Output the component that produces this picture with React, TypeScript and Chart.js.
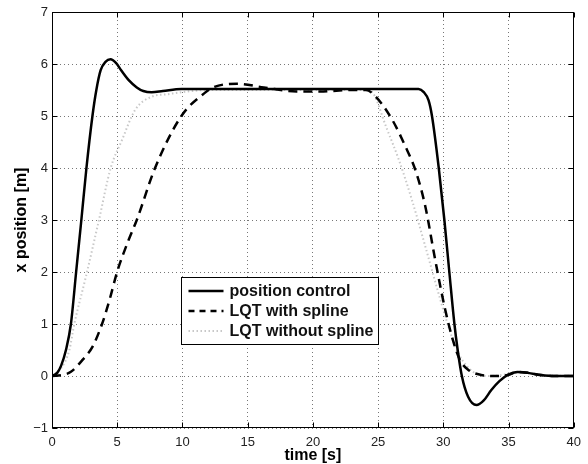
import React, { useEffect, useRef } from "react";
import { Chart, registerables } from "chart.js";

Chart.register(...registerables);

// ---- data (time [s], x position [m]) ----
const posT = [0, 0.4, 0.7, 1.07, 1.45, 1.85, 2.25, 2.64, 3.1, 3.4, 3.73, 4.1, 4.49, 4.9, 5.3, 5.88, 6.5, 7.0, 7.64, 8.5, 9.92, 14, 20, 28.1, 28.5, 28.87, 29.13, 29.65, 30.08, 30.46, 30.85, 31.1, 31.42, 31.9, 32.54, 33.1, 33.68, 34.3, 34.94, 35.7, 36.5, 37.47, 38.5, 40];
const posX = [0, 0.06, 0.2, 0.5, 1.0, 2.0, 3.0, 4.0, 5.0, 5.5, 5.88, 6.04, 6.09, 6.02, 5.88, 5.69, 5.55, 5.48, 5.455, 5.48, 5.52, 5.52, 5.52, 5.52, 5.46, 5.3, 5.0, 4.0, 3.0, 2.0, 1.0, 0.5, 0.0, -0.4, -0.56, -0.47, -0.27, -0.1, 0.02, 0.077, 0.06, 0.02, 0.0, 0.0];

const splT = [0, 0.8, 1.45, 2.34, 3.1, 3.85, 4.45, 4.99, 5.88, 6.5, 7.9, 9.92, 11.69, 12.45, 14.2, 16.24, 18.76, 20.53, 23.06, 24.07, 24.83, 26.1, 27.1, 27.86, 28.62, 29.38, 30.14, 30.77, 31.27, 31.9, 32.9, 34.0, 34.94, 35.7, 36.5, 37.47, 38.5, 40];
const splX = [0, 0.02, 0.08, 0.31, 0.56, 1.01, 1.5, 2.0, 2.62, 3.0, 4.0, 5.0, 5.44, 5.56, 5.62, 5.55, 5.47, 5.47, 5.5, 5.5, 5.37, 4.92, 4.41, 3.96, 3.26, 2.23, 1.28, 0.66, 0.31, 0.12, 0.02, 0.0, 0.02, 0.077, 0.06, 0.02, 0.0, 0.0];

const noSplT = [0, 0.7, 1.33, 1.71, 2.59, 3.6, 4.5, 5.37, 6.38, 7.64, 8.9, 10, 12, 24, 24.6, 25.6, 26.6, 27.6, 28.62, 29.63, 30.39, 31.15, 32.4, 33.5, 34.5, 35.7, 37.5, 40];
const noSplX = [0, 0.15, 0.5, 1.0, 1.9, 3.0, 4.0, 4.54, 5.12, 5.37, 5.42, 5.46, 5.5, 5.5, 5.44, 4.8, 4.15, 3.38, 2.49, 1.59, 0.95, 0.44, 0.06, 0.0, 0.02, 0.077, 0.02, 0.0];

const seriesNames = ["position control", "LQT with spline", "LQT without spline"];
const xTitle = "time [s]";
const yTitle = "x position [m]";
const xRange = [0, 40];
const yRange = [-1, 7];
const xStep = 5;
const yStep = 1;
// legend box corners in data units
const legendT = [9.9, 25.0];
const legendY = [1.9, 0.62];

const FONT = "'Liberation Sans', Arial, Helvetica, sans-serif";

const zip = (t: number[], v: number[]) => t.map((x, i) => ({ x, y: v[i] }));

const styles = [
  { color: "#000", width: 2.5, dash: [] as number[] },
  { color: "#000", width: 2.5, dash: [9, 6] },
  { color: "#c8c8c8", width: 2, dash: [1.5, 2.5] },
];

const framePlugin = {
  id: "frame",
  afterDraw(chart: any) {
    const { ctx, chartArea: a, scales } = chart;
    const L = Math.round(a.left) + 0.5;
    const R = Math.round(a.right) - 0.5;
    const T = Math.round(a.top) + 0.5;
    const B = Math.round(a.bottom) - 0.5;
    ctx.save();
    ctx.setLineDash([]);
    ctx.strokeStyle = "#000";
    ctx.lineWidth = 1;
    ctx.beginPath();
    const tl = 5;
    scales.x.ticks.forEach((t: any) => {
      const p = Math.round(scales.x.getPixelForValue(t.value)) + 0.5;
      ctx.moveTo(p, B);
      ctx.lineTo(p, B - tl);
      ctx.moveTo(p, T);
      ctx.lineTo(p, T + tl);
    });
    scales.y.ticks.forEach((t: any) => {
      const p = Math.round(scales.y.getPixelForValue(t.value)) + 0.5;
      ctx.moveTo(L, p);
      ctx.lineTo(L + tl, p);
      ctx.moveTo(R, p);
      ctx.lineTo(R - tl, p);
    });
    ctx.stroke();
    ctx.strokeRect(L, T, R - L, B - T);
    ctx.restore();
  },
};

const legendPlugin = {
  id: "boxLegend",
  afterDatasetsDraw(chart: any) {
    const { ctx, scales } = chart;
    const x0 = Math.round(scales.x.getPixelForValue(legendT[0])) + 0.5;
    const x1 = Math.round(scales.x.getPixelForValue(legendT[1])) + 0.5;
    const y0 = Math.round(scales.y.getPixelForValue(legendY[0])) + 0.5;
    const y1 = Math.round(scales.y.getPixelForValue(legendY[1])) + 0.5;
    ctx.save();
    ctx.fillStyle = "#fff";
    ctx.fillRect(x0, y0, x1 - x0, y1 - y0);
    ctx.setLineDash([]);
    ctx.strokeStyle = "#000";
    ctx.lineWidth = 1;
    ctx.strokeRect(x0, y0, x1 - x0, y1 - y0);
    const pad = 3.5;
    const rowH = (y1 - y0 - 2 * pad) / seriesNames.length;
    ctx.font = `bold 16px ${FONT}`;
    ctx.textBaseline = "middle";
    ctx.textAlign = "left";
    seriesNames.forEach((name, i) => {
      const cy = y0 + pad + rowH * (i + 0.5);
      const s = styles[i];
      ctx.beginPath();
      ctx.strokeStyle = s.color;
      ctx.lineWidth = s.width;
      ctx.setLineDash(i === 1 ? [6, 5] : s.dash);
      ctx.moveTo(x0 + 7, cy);
      ctx.lineTo(x0 + 42, cy);
      ctx.stroke();
      ctx.setLineDash([]);
      ctx.fillStyle = "#111";
      ctx.fillText(name, x0 + 48, cy + 0.5);
    });
    ctx.restore();
  },
};

export default function App() {
  const ref = useRef<HTMLCanvasElement | null>(null);
  useEffect(() => {
    document.body.style.margin = "0";
    const canvas = ref.current;
    if (!canvas) return;
    const series = [zip(posT, posX), zip(splT, splX), zip(noSplT, noSplX)];
    const chart = new Chart(canvas, {
      type: "line",
      data: {
        datasets: series.map((d, i) => ({
          label: seriesNames[i],
          data: d,
          borderColor: styles[i].color,
          borderWidth: styles[i].width,
          borderDash: styles[i].dash,
          pointRadius: 0,
          fill: false,
          cubicInterpolationMode: "monotone" as const,
          order: i === 2 ? 3 : i === 0 ? 2 : 1,
        })),
      },
      options: {
        animation: false,
        responsive: false,
        layout: { padding: { left: 0, right: 8, top: 12, bottom: 0 } },
        plugins: { legend: { display: false }, tooltip: { enabled: false } },
        scales: {
          x: {
            type: "linear",
            min: xRange[0],
            max: xRange[1],
            afterFit: (s: any) => {
              s.height = 36;
            },
            ticks: {
              stepSize: xStep,
              autoSkip: false,
              maxRotation: 0,
              padding: 7,
              color: "#222",
              font: { family: FONT, size: 13 },
            },
            grid: { color: "#777", lineWidth: 1, drawTicks: false },
            border: { display: false, dash: [1, 3] },
            title: {
              display: true,
              text: xTitle,
              color: "#000",
              font: { family: FONT, size: 16, weight: "bold", lineHeight: 1 },
              padding: { top: 0, bottom: 0 },
            },
          },
          y: {
            type: "linear",
            min: yRange[0],
            max: yRange[1],
            afterFit: (s: any) => {
              s.width = 52;
            },
            ticks: {
              stepSize: yStep,
              autoSkip: false,
              padding: 4,
              color: "#222",
              font: { family: FONT, size: 13 },
              callback: (v: any) => String(v).replace("-", "\u2212"),
            },
            grid: { color: "#777", lineWidth: 1, drawTicks: false },
            border: { display: false, dash: [1, 3] },
            title: {
              display: true,
              text: yTitle,
              color: "#000",
              font: { family: FONT, size: 16, weight: "bold", lineHeight: 1 },
              padding: { top: 14, bottom: 0 },
            },
          },
        },
      },
      plugins: [legendPlugin, framePlugin],
    });
    return () => chart.destroy();
  }, []);
  return (
    <div style={{ position: "absolute", left: 0, top: 0, width: 588, height: 464, background: "#fff" }}>
      <canvas ref={ref} width={588} height={464} style={{ display: "block" }} />
    </div>
  );
}
